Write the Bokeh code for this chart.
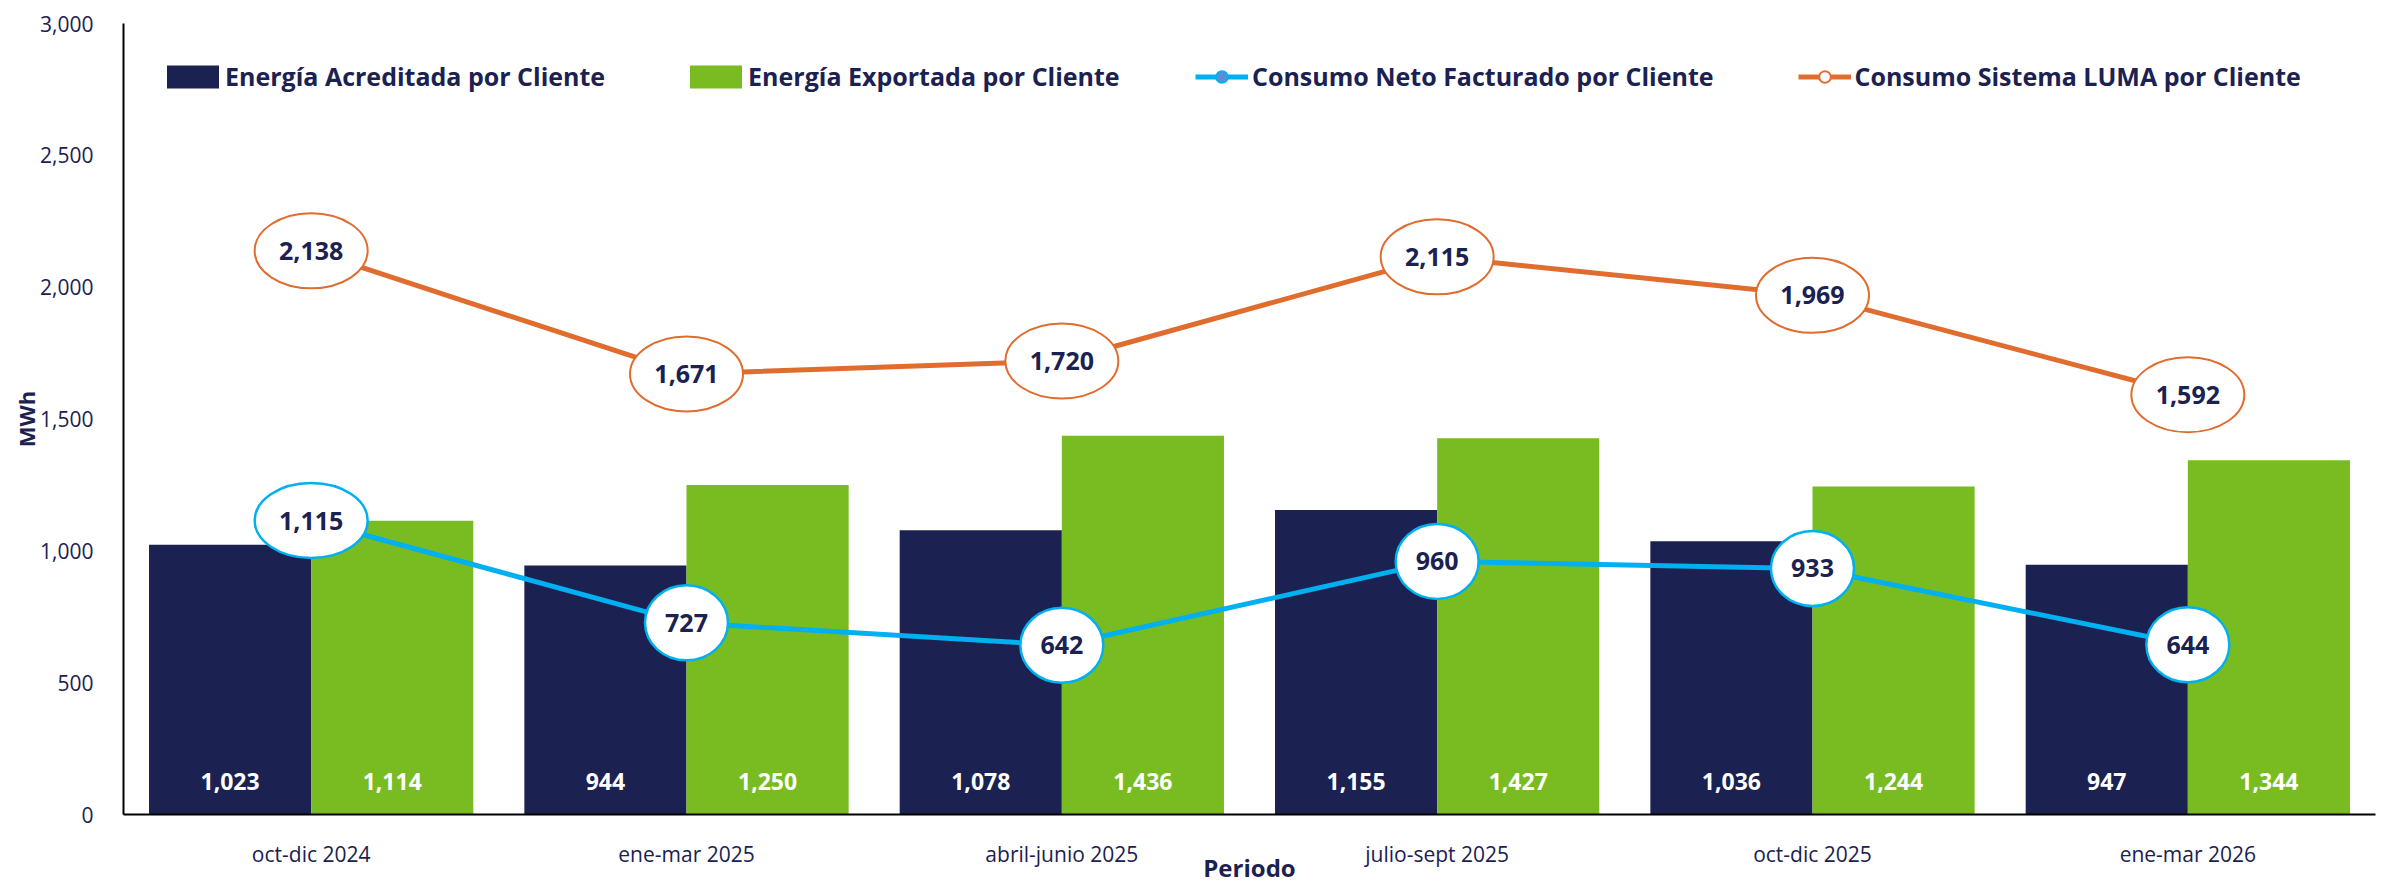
from bokeh.plotting import figure
from bokeh.models import (ColumnDataSource, FactorRange, Range1d, FixedTicker,
                          NumeralTickFormatter, Legend, LegendItem)
from bokeh.transform import dodge
from bokeh.core.properties import value
from bokeh.embed import file_html
from bokeh.resources import INLINE

# ---- data ----
periodos = ["oct-dic 2024", "ene-mar 2025", "abril-junio 2025",
            "julio-sept 2025", "oct-dic 2025", "ene-mar 2026"]
acreditada = [1023, 944, 1078, 1155, 1036, 947]
exportada = [1114, 1250, 1436, 1427, 1244, 1344]
neto = [1115, 727, 642, 960, 933, 644]
luma = [2138, 1671, 1720, 2115, 1969, 1592]
y_ticks = [0, 500, 1000, 1500, 2000, 2500, 3000]

NAVY = "#1B2150"
GREEN = "#78BC21"
ORANGE = "#E06C2E"
BLUE = "#00B0F0"
FONT = "Open Sans"

def fmt(v):
    return f"{v:,}"

src = ColumnDataSource(dict(
    x=periodos,
    acreditada=acreditada,
    exportada=exportada,
    neto=neto,
    luma=luma,
    acred_lbl=[fmt(v) for v in acreditada],
    export_lbl=[fmt(v) for v in exportada],
    neto_lbl=[fmt(v) for v in neto],
    luma_lbl=[fmt(v) for v in luma],
    neto_w=[38 + 15 * len(fmt(v)) for v in neto],
    luma_w=[38 + 15 * len(fmt(v)) for v in luma],
))

p = figure(x_range=FactorRange(*periodos, range_padding=0),
           y_range=Range1d(0, 3000),
           width=2381, height=886,
           min_border_left=123, min_border_right=6,
           min_border_top=23, min_border_bottom=71,
           output_backend="svg", toolbar_location=None)

p.outline_line_color = None
p.xgrid.grid_line_color = None
p.ygrid.grid_line_color = None
p.background_fill_color = "white"
p.border_fill_color = "white"

BW = 0.432
r_acred = p.vbar(x=dodge("x", -BW / 2, range=p.x_range), top="acreditada", width=BW,
                 bottom=0, source=src, fill_color=NAVY, line_color=None)
r_export = p.vbar(x=dodge("x", BW / 2, range=p.x_range), top="exportada", width=BW,
                  bottom=0, source=src, fill_color=GREEN, line_color=None)

# bar labels
p.text(x=dodge("x", -BW / 2, range=p.x_range), y=0, text="acred_lbl", source=src,
       y_offset=-33, text_align="center", text_baseline="middle",
       text_font=value(FONT), text_font_style="bold", text_font_size="23px",
       text_color="white")
p.text(x=dodge("x", BW / 2, range=p.x_range), y=0, text="export_lbl", source=src,
       y_offset=-33, text_align="center", text_baseline="middle",
       text_font=value(FONT), text_font_style="bold", text_font_size="23px",
       text_color="white")

# lines
r_luma = p.line(x="x", y="luma", source=src, line_color=ORANGE, line_width=5)
r_luma_m = p.scatter(x="x", y="luma", source=src, marker="circle", size=10,
                     fill_color="white", line_color=ORANGE, line_width=2)
r_neto = p.line(x="x", y="neto", source=src, line_color=BLUE, line_width=5)
r_neto_m = p.scatter(x="x", y="neto", source=src, marker="circle", size=12,
                     fill_color="#5B8ED6", line_color=BLUE, line_width=2)

# ellipse labels
p.ellipse(x="x", y="luma", width="luma_w", height=75, width_units="screen",
          height_units="screen", source=src, fill_color="white",
          line_color=ORANGE, line_width=2)
p.ellipse(x="x", y="neto", width="neto_w", height=75, width_units="screen",
          height_units="screen", source=src, fill_color="white",
          line_color=BLUE, line_width=2.5)
p.text(x="x", y="luma", text="luma_lbl", source=src, text_align="center",
       text_baseline="middle", text_font=value(FONT), text_font_style="bold",
       text_font_size="25px", text_color=NAVY)
p.text(x="x", y="neto", text="neto_lbl", source=src, text_align="center",
       text_baseline="middle", text_font=value(FONT), text_font_style="bold",
       text_font_size="25px", text_color=NAVY)

# axes
for ax in (p.xaxis[0], p.yaxis[0]):
    ax.axis_line_color = "black"
    ax.axis_line_width = 2
    ax.major_tick_out = 0
    ax.major_tick_in = 0
    ax.minor_tick_out = 0
    ax.minor_tick_in = 0
    ax.major_label_text_font = FONT
    ax.major_label_text_font_size = "21px"
    ax.major_label_text_color = NAVY
    ax.axis_label_text_font = FONT
    ax.axis_label_text_font_style = "bold"
    ax.axis_label_text_color = NAVY

p.yaxis.ticker = FixedTicker(ticks=y_ticks)
p.yaxis.formatter = NumeralTickFormatter(format="0,0")
p.yaxis.major_label_standoff = 30
p.yaxis.axis_label = "MWh"
p.yaxis.axis_label_text_font_size = "22px"
p.yaxis.axis_label_standoff = -4

p.xaxis.major_label_standoff = 25
p.xaxis.axis_label = "Periodo"
p.xaxis.axis_label_text_font_size = "24px"
p.xaxis.axis_label_standoff = -20

common = dict(orientation="horizontal", glyph_height=29, padding=0,
              margin=0, border_line_color=None, background_fill_alpha=0,
              label_text_font=FONT, label_text_font_style="bold",
              label_text_font_size="25px", label_text_color=NAVY)

legend_bars = Legend(items=[
    LegendItem(label="Energía Acreditada por Cliente", renderers=[r_acred]),
    LegendItem(label="Energía Exportada por Cliente", renderers=[r_export]),
], location=(37, 721), glyph_width=65, label_standoff=0, spacing=78, **common)
legend_lines = Legend(items=[
    LegendItem(label="Consumo Neto Facturado por Cliente", renderers=[r_neto, r_neto_m]),
    LegendItem(label="Consumo Sistema LUMA por Cliente", renderers=[r_luma, r_luma_m]),
], location=(1072, 721), glyph_width=53, label_standoff=4, spacing=84, **common)
p.add_layout(legend_bars, "center")
p.add_layout(legend_lines, "center")

open("out.html", "w").write(file_html(p, INLINE))
